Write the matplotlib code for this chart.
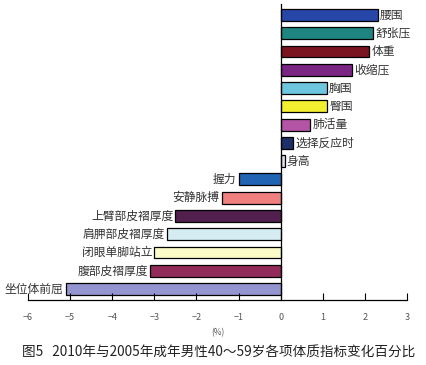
import matplotlib.pyplot as plt

plt.rcParams['font.family'] = ['Noto Sans CJK SC', 'DejaVu Sans']

names = ['腰围', '舒张压', '体重', '收缩压', '胸围', '臀围', '肺活量', '选择反应时', '身高',
         '握力', '安静脉搏', '上臂部皮褶厚度', '肩胛部皮褶厚度', '闭眼单脚站立', '腹部皮褶厚度', '坐位体前屈']
values = [2.3, 2.2, 2.1, 1.7, 1.1, 1.1, 0.7, 0.3, 0.1,
          -1.0, -1.4, -2.5, -2.7, -3.0, -3.1, -5.1]
colors = ['#2747a8', '#1e8580', '#7a1420', '#7a2484', '#6ec6de', '#f2ee30', '#b454a4', '#1e2e68', '#dcdcec',
          '#2264b4', '#f08080', '#52204e', '#d4ecf2', '#fcfcc8', '#922a5a', '#9494d0']
xticks = [-6, -5, -4, -3, -2, -1, 0, 1, 2, 3]

fig = plt.figure(figsize=(4.27, 3.65), dpi=100)
ax = fig.add_axes([0.0656, 0.178, 0.8876, 0.811])

ypos = list(range(len(names)))
ax.barh(ypos, values, height=0.65, color=colors, edgecolor='black', linewidth=0.9)

for y, v, n in zip(ypos, values, names):
    if v >= 0:
        ax.text(v + 0.05, y, n, ha='left', va='center', fontsize=8.5, color='#333333')
    else:
        ax.text(v - 0.05, y, n, ha='right', va='center', fontsize=8.5, color='#333333')

ax.set_xlim(-6, 3)
ax.set_ylim(len(names) - 0.4, -0.6)
ax.set_xticks(xticks)
ax.set_xticklabels([str(t).replace('-', '−') for t in xticks], fontsize=6.5, color='#555555')
ax.tick_params(axis='x', direction='in', length=5, pad=9, width=0.8)
ax.set_yticks([])
ax.spines['top'].set_visible(False)
ax.spines['right'].set_visible(False)
ax.spines['left'].set_position(('data', 0))
ax.spines['left'].set_linewidth(0.9)
ax.spines['bottom'].set_linewidth(0.9)
ax.set_xlabel('(%)', fontsize=6, color='#555555', labelpad=5)

fig.text(0.513, 0.035, '图5   2010年与2005年成年男性40～59岁各项体质指标变化百分比',
         ha='center', va='center', fontsize=9.8, color='#222222')

fig.savefig('out.png', dpi=100)
